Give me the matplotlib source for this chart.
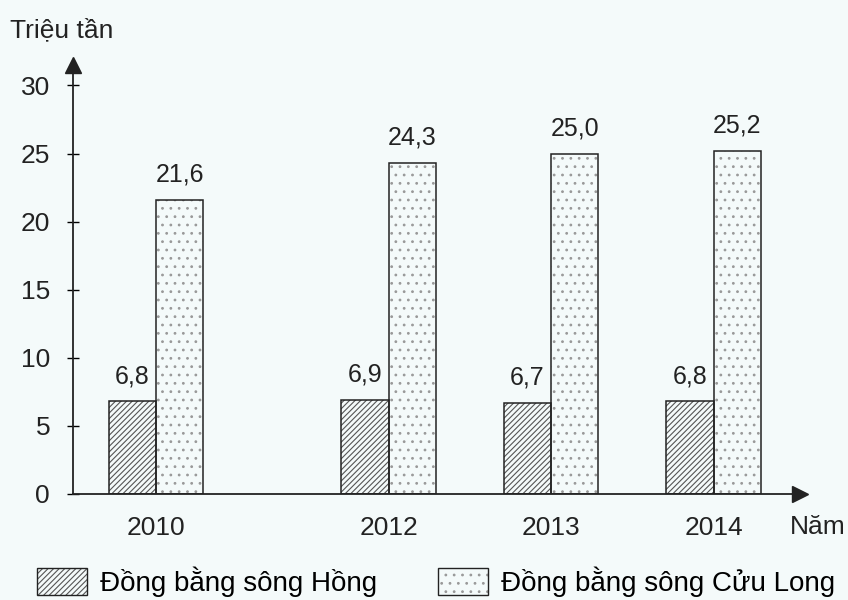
import numpy as np
import matplotlib
matplotlib.use('Agg')
import matplotlib.pyplot as plt
from matplotlib.patches import Patch

plt.rcParams['font.family'] = ['Liberation Sans', 'DejaVu Sans']
plt.rcParams['hatch.linewidth'] = 0.8

# san luong lua (trieu tan)
years = ['2010', '2012', '2013', '2014']
song_hong = [6.8, 6.9, 6.7, 6.8]
cuu_long = [21.6, 24.3, 25.0, 25.2]
labels_hong = ['6,8', '6,9', '6,7', '6,8']
labels_cl = ['21,6', '24,3', '25,0', '25,2']
yticks = [0, 5, 10, 15, 20, 25, 30]

BG = '#f4fafa'
INK = '#222222'
W = 0.29
GAP = 0.43   # khoang trong giua 2010 va 2012

fig = plt.figure(figsize=(8.48, 6.0), dpi=100, facecolor=BG)
ax = fig.add_axes([0.0861, 0.1767, 0.857, 0.715], facecolor=BG)

x = np.arange(len(years), dtype=float)
x[1:] += GAP

# song Hong: gach cheo
ax.bar(x - W / 2, song_hong, W, facecolor='none', edgecolor='#555555',
       hatch='//////', linewidth=0)
ax.bar(x - W / 2, song_hong, W, facecolor='none', edgecolor=INK, linewidth=1.1)
# Cuu Long: cham
ax.bar(x + W / 2, cuu_long, W, facecolor='none', edgecolor='#999999',
       hatch='..', linewidth=0)
ax.bar(x + W / 2, cuu_long, W, facecolor='none', edgecolor=INK, linewidth=1.1)

for xi, v, t in zip(x, song_hong, labels_hong):
    ax.annotate(t, (xi - W / 2, v), xytext=(0, 13), textcoords='offset points',
                ha='center', va='baseline', fontsize=18, color=INK)
for xi, v, t in zip(x, cuu_long, labels_cl):
    ax.annotate(t, (xi + W / 2, v), xytext=(0, 13), textcoords='offset points',
                ha='center', va='baseline', fontsize=18, color=INK)

ax.set_xlim(-0.511, 3.96)
ax.set_ylim(0, 31.5)
ax.set_xticks(x)
ax.set_xticklabels(years, fontsize=19, color=INK)
ax.tick_params(axis='x', length=0, pad=16)
ax.set_yticks(yticks)
ax.set_yticklabels([str(v) for v in yticks], fontsize=19, color=INK)
ax.tick_params(axis='y', direction='inout', length=9, width=1, pad=12)

for s in ['top', 'right']:
    ax.spines[s].set_visible(False)
for s in ['left', 'bottom']:
    ax.spines[s].set_linewidth(1.3)
    ax.spines[s].set_color(INK)

# mui ten truc
ax.plot(1, 0, '>', color=INK, markersize=11, transform=ax.transAxes, clip_on=False)
ax.plot(0, 1, '^', color=INK, markersize=11, transform=ax.transAxes, clip_on=False)

fig.text(0.012, 0.95, 'Triệu tần', fontsize=19, color=INK, va='center')
fig.text(0.997, 0.122, 'Năm', fontsize=19, color=INK, va='center', ha='right')

h1 = (Patch(facecolor='none', edgecolor='#555555', hatch='//////', linewidth=0),
      Patch(facecolor='none', edgecolor=INK, linewidth=1.0))
h2 = (Patch(facecolor='none', edgecolor='#999999', hatch='..', linewidth=0),
      Patch(facecolor='none', edgecolor=INK, linewidth=1.0))
fig.legend([h1, h2], ['Đồng bằng sông Hồng', 'Đồng bằng sông Cửu Long'],
           loc='center', bbox_to_anchor=(0.514, 0.03), ncol=2, frameon=False,
           fontsize=20, handlelength=1.8, handleheight=1.1, columnspacing=2.2,
           handletextpad=0.47, borderpad=0, borderaxespad=0)

fig.savefig('out.png', dpi=100, facecolor=BG)
